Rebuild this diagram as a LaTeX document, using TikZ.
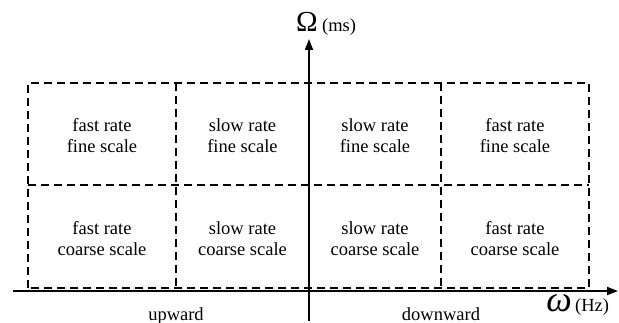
\documentclass[tikz,border=0pt]{standalone}
\usepackage{fontspec}
\setmainfont{Liberation Serif}
\usetikzlibrary{arrows.meta}
\begin{document}
\begin{tikzpicture}[x=1pt,y=-1pt,
  grid/.style={line width=1.1pt,dash pattern=on 8pt off 5pt},
  axis/.style={line width=1.7pt,-{Triangle[length=11pt,width=8pt]}},
  cell/.style={align=center,font=\fontsize{18.5}{21}\selectfont,inner sep=0pt},
  lab/.style={font=\fontsize{18.5}{21}\selectfont,inner sep=0pt}]
\useasboundingbox (0,0) rectangle (619,323);
% dashed grid
\coordinate (g00) at (28,83);
\coordinate (g40) at (589,83);
\coordinate (g01) at (28,185);
\coordinate (g41) at (589,185);
\coordinate (g02) at (28,288);
\coordinate (g42) at (589,288);
\coordinate (g10) at (176,83);
\coordinate (g12) at (176,288);
\coordinate (g30) at (441,83);
\coordinate (g32) at (441,288);
\draw[grid] (g02) -- (g00) -- (g40) -- (g42) -- cycle;
\draw[grid] (g01) -- (g41);
\draw[grid] (g10) -- (g12);
\draw[grid] (g30) -- (g32);
% axes
\coordinate (xs) at (13,291);
\coordinate (xe) at (618,291);
\coordinate (ys) at (309,321);
\coordinate (ye) at (309,39);
\draw[axis] (xs) -- (xe);
\draw[axis] (ys) -- (ye);
% cells
\node[cell] (c11) at (102,136) {fast rate\\fine scale};
\node[cell] (c21) at (242.5,136) {slow rate\\fine scale};
\node[cell] (c31) at (375,136) {slow rate\\fine scale};
\node[cell] (c41) at (515,136) {fast rate\\fine scale};
\node[cell] (c12) at (102,239) {fast rate\\coarse scale};
\node[cell] (c22) at (242.5,239) {slow rate\\coarse scale};
\node[cell] (c32) at (375,239) {slow rate\\coarse scale};
\node[cell] (c42) at (515,239) {fast rate\\coarse scale};
% labels
\node[lab,anchor=base] (up) at (176,320) {upward};
\node[lab,anchor=base] (down) at (441,320) {downward};
\node[inner sep=0pt,anchor=base,font=\fontsize{29}{32}\selectfont] (Om) at (307,32) {Ω};
\node[lab,anchor=base west,xshift=4pt] (ms) at (Om.base east) {(ms)};
\node[inner sep=0pt,anchor=base,font=\fontsize{36}{38}\itshape] (om) at (559,312) {ω};
\node[lab,anchor=base west,xshift=3pt] (hz) at (om.base east) {(Hz)};
\end{tikzpicture}
\end{document}
